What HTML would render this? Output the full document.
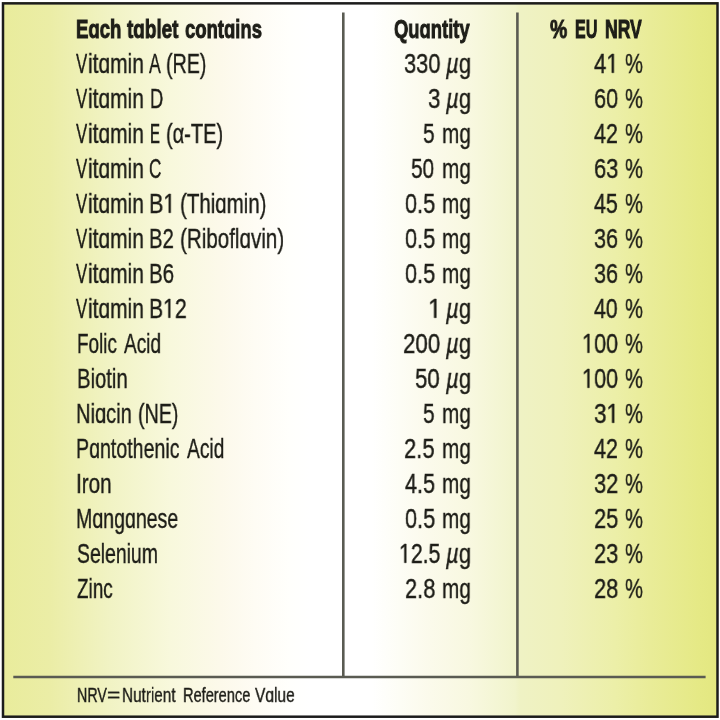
<!DOCTYPE html>
<html><head><meta charset="utf-8"><style>
html,body{margin:0;padding:0;width:720px;height:720px;overflow:hidden;background:#fff}
#bg{position:absolute;left:0;top:0;width:720px;height:720px;background:linear-gradient(to right,#e9ec9b 0px,#ebeda6 50px,#f1f3c4 110px,#f8f8dc 170px,#fcf9ea 220px,#fefcf4 255px,#fffffc 290px,#ffffff 310px,#ffffff 372px,#fdfdf5 400px,#fbfaeb 430px,#f8f8e0 470px,#f1f4cc 515px,#eff2c4 520px,#eff1bc 560px,#ecefa8 615px,#e9ec98 650px,#e5e985 700px,#e3e780 720px)}
span{position:absolute;white-space:pre;will-change:transform;-webkit-text-stroke:0.4px #1e1e18;font-family:"Liberation Sans",sans-serif;line-height:normal;color:#1e1e18;transform-origin:0 0}
span.b{font-weight:700;-webkit-text-stroke-width:1.0px}
.one{display:inline-block;width:0.5562em;height:0.688em;vertical-align:baseline;overflow:visible}
.one path{fill:#1e1e18;stroke:#1e1e18;stroke-width:0.5px;vector-effect:non-scaling-stroke}
svg.lines{position:absolute;left:0;top:0}
</style></head><body>
<div id="bg"></div>
<svg class="lines" width="720" height="720" viewBox="0 0 720 720">
<path d="M0 0H720V720H0Z M2 2V718H718V2Z" fill="#fff" fill-rule="evenodd"/>
<rect x="3.0" y="3.35" width="714.5" height="713.35" fill="none" stroke="#1c1c1c" stroke-width="2.5"/>
<line x1="343.3" y1="12.5" x2="343.3" y2="677" stroke="#5a5b52" stroke-width="2.6"/>
<line x1="517.4" y1="12.5" x2="517.4" y2="677" stroke="#5a5b52" stroke-width="2.6"/>
<line x1="13.3" y1="677" x2="705.6" y2="677" stroke="#5a5b52" stroke-width="2.6"/>
</svg>
<span class="b" style="left:76.39px;top:14.017px;font-size:26.5px;transform:scaleX(0.7010)">Eɑch</span>
<span class="b" style="left:126.91px;top:14.017px;font-size:26.5px;transform:scaleX(0.7142)">tɑblet</span>
<span class="b" style="left:185.46px;top:14.017px;font-size:26.5px;transform:scaleX(0.6965)">contɑins</span>
<span class="r" style="left:76.42px;top:48.384px;font-size:27.2px;transform:scaleX(0.6202)">V</span>
<span class="r" style="left:88.04px;top:48.384px;font-size:27.2px;transform:scaleX(0.7701)">itɑmin</span>
<span class="r" style="left:148.86px;top:48.384px;font-size:27.2px;transform:scaleX(0.6490)">A</span>
<span class="r" style="left:166.22px;top:48.384px;font-size:27.2px;transform:scaleX(0.7239)">(RE)</span>
<span class="r" style="left:76.42px;top:83.384px;font-size:27.2px;transform:scaleX(0.6202)">V</span>
<span class="r" style="left:88.04px;top:83.384px;font-size:27.2px;transform:scaleX(0.7701)">itɑmin</span>
<span class="r" style="left:149.52px;top:83.384px;font-size:27.2px;transform:scaleX(0.6797)">D</span>
<span class="r" style="left:76.42px;top:118.384px;font-size:27.2px;transform:scaleX(0.6202)">V</span>
<span class="r" style="left:88.04px;top:118.384px;font-size:27.2px;transform:scaleX(0.7701)">itɑmin</span>
<span class="r" style="left:149.90px;top:118.384px;font-size:27.2px;transform:scaleX(0.5532)">E</span>
<span class="r" style="left:166.20px;top:118.384px;font-size:27.2px;transform:scaleX(0.7366)">(α-TE)</span>
<span class="r" style="left:76.42px;top:153.384px;font-size:27.2px;transform:scaleX(0.6202)">V</span>
<span class="r" style="left:88.04px;top:153.384px;font-size:27.2px;transform:scaleX(0.7701)">itɑmin</span>
<span class="r" style="left:149.44px;top:153.384px;font-size:27.2px;transform:scaleX(0.6303)">C</span>
<span class="r" style="left:76.42px;top:188.384px;font-size:27.2px;transform:scaleX(0.6202)">V</span>
<span class="r" style="left:88.04px;top:188.384px;font-size:27.2px;transform:scaleX(0.7701)">itɑmin</span>
<span class="r" style="left:149.37px;top:188.384px;font-size:27.2px;transform:scaleX(0.7949)">B<svg class="one" viewBox="0 -1409 1139 1409"><path d="M515 0V-1237L197 -1010V-1180L530 -1409H696V0Z"/></svg></span>
<span class="r" style="left:179.67px;top:188.384px;font-size:27.2px;transform:scaleX(0.7532)">(Thiɑmin)</span>
<span class="r" style="left:76.42px;top:223.384px;font-size:27.2px;transform:scaleX(0.6202)">V</span>
<span class="r" style="left:88.04px;top:223.384px;font-size:27.2px;transform:scaleX(0.7701)">itɑmin</span>
<span class="r" style="left:149.49px;top:223.384px;font-size:27.2px;transform:scaleX(0.7420)">B2</span>
<span class="r" style="left:179.66px;top:223.384px;font-size:27.2px;transform:scaleX(0.7576)">(Riboflɑvin)</span>
<span class="r" style="left:76.42px;top:258.384px;font-size:27.2px;transform:scaleX(0.6202)">V</span>
<span class="r" style="left:88.04px;top:258.384px;font-size:27.2px;transform:scaleX(0.7701)">itɑmin</span>
<span class="r" style="left:149.46px;top:258.384px;font-size:27.2px;transform:scaleX(0.7520)">B6</span>
<span class="r" style="left:76.42px;top:293.384px;font-size:27.2px;transform:scaleX(0.6202)">V</span>
<span class="r" style="left:88.04px;top:293.384px;font-size:27.2px;transform:scaleX(0.7701)">itɑmin</span>
<span class="r" style="left:149.40px;top:293.384px;font-size:27.2px;transform:scaleX(0.7799)">B<svg class="one" viewBox="0 -1409 1139 1409"><path d="M515 0V-1237L197 -1010V-1180L530 -1409H696V0Z"/></svg>2</span>
<span class="r" style="left:76.59px;top:328.384px;font-size:27.2px;transform:scaleX(0.6959)">Folic</span>
<span class="r" style="left:124.00px;top:328.384px;font-size:27.2px;transform:scaleX(0.7000)">Acid</span>
<span class="r" style="left:76.68px;top:363.384px;font-size:27.2px;transform:scaleX(0.7447)">Biotin</span>
<span class="r" style="left:76.39px;top:398.384px;font-size:27.2px;transform:scaleX(0.7381)">Niɑcin</span>
<span class="r" style="left:138.32px;top:398.384px;font-size:27.2px;transform:scaleX(0.7239)">(NE)</span>
<span class="r" style="left:76.43px;top:433.384px;font-size:27.2px;transform:scaleX(0.7211)">Pɑntothenic</span>
<span class="r" style="left:187.00px;top:433.384px;font-size:27.2px;transform:scaleX(0.7059)">Acid</span>
<span class="r" style="left:76.14px;top:468.384px;font-size:27.2px;transform:scaleX(0.7611)">Iron</span>
<span class="r" style="left:76.43px;top:503.384px;font-size:27.2px;transform:scaleX(0.7194)">Mɑngɑnese</span>
<span class="r" style="left:76.63px;top:538.384px;font-size:27.2px;transform:scaleX(0.7136)">Selenium</span>
<span class="r" style="left:76.83px;top:573.384px;font-size:27.2px;transform:scaleX(0.6951)">Zinc</span>
<span class="b" style="left:393.96px;top:14.017px;font-size:26.5px;transform:scaleX(0.6944)">Quɑntity</span>
<span class="r" style="left:403.62px;top:48.384px;font-size:27.2px;transform:scaleX(0.8047)">330</span>
<span class="r" style="left:445.50px;top:48.384px;font-size:27.2px;transform:scaleX(0.8143)"><i>µ</i>g</span>
<span class="r" style="left:427.91px;top:83.384px;font-size:27.2px;transform:scaleX(0.8213)">3</span>
<span class="r" style="left:445.50px;top:83.384px;font-size:27.2px;transform:scaleX(0.8143)"><i>µ</i>g</span>
<span class="r" style="left:423.17px;top:118.384px;font-size:27.2px;transform:scaleX(0.7663)">5</span>
<span class="r" style="left:441.50px;top:118.384px;font-size:27.2px;transform:scaleX(0.7630)">mg</span>
<span class="r" style="left:411.47px;top:153.384px;font-size:27.2px;transform:scaleX(0.7673)">50</span>
<span class="r" style="left:441.50px;top:153.384px;font-size:27.2px;transform:scaleX(0.7630)">mg</span>
<span class="r" style="left:404.53px;top:188.384px;font-size:27.2px;transform:scaleX(0.7998)">0.5</span>
<span class="r" style="left:441.50px;top:188.384px;font-size:27.2px;transform:scaleX(0.7630)">mg</span>
<span class="r" style="left:404.53px;top:223.384px;font-size:27.2px;transform:scaleX(0.7998)">0.5</span>
<span class="r" style="left:441.50px;top:223.384px;font-size:27.2px;transform:scaleX(0.7630)">mg</span>
<span class="r" style="left:404.53px;top:258.384px;font-size:27.2px;transform:scaleX(0.7998)">0.5</span>
<span class="r" style="left:441.50px;top:258.384px;font-size:27.2px;transform:scaleX(0.7630)">mg</span>
<span class="r" style="left:427.87px;top:293.384px;font-size:27.2px;transform:scaleX(0.9004)"><svg class="one" viewBox="0 -1409 1139 1409"><path d="M515 0V-1237L197 -1010V-1180L530 -1409H696V0Z"/></svg></span>
<span class="r" style="left:445.50px;top:293.384px;font-size:27.2px;transform:scaleX(0.8143)"><i>µ</i>g</span>
<span class="r" style="left:402.88px;top:328.384px;font-size:27.2px;transform:scaleX(0.8214)">200</span>
<span class="r" style="left:445.50px;top:328.384px;font-size:27.2px;transform:scaleX(0.8143)"><i>µ</i>g</span>
<span class="r" style="left:415.31px;top:363.384px;font-size:27.2px;transform:scaleX(0.8205)">50</span>
<span class="r" style="left:445.50px;top:363.384px;font-size:27.2px;transform:scaleX(0.8143)"><i>µ</i>g</span>
<span class="r" style="left:423.17px;top:398.384px;font-size:27.2px;transform:scaleX(0.7663)">5</span>
<span class="r" style="left:441.50px;top:398.384px;font-size:27.2px;transform:scaleX(0.7630)">mg</span>
<span class="r" style="left:404.20px;top:433.384px;font-size:27.2px;transform:scaleX(0.8088)">2.5</span>
<span class="r" style="left:441.50px;top:433.384px;font-size:27.2px;transform:scaleX(0.7630)">mg</span>
<span class="r" style="left:404.76px;top:468.384px;font-size:27.2px;transform:scaleX(0.7936)">4.5</span>
<span class="r" style="left:441.50px;top:468.384px;font-size:27.2px;transform:scaleX(0.7630)">mg</span>
<span class="r" style="left:404.53px;top:503.384px;font-size:27.2px;transform:scaleX(0.7998)">0.5</span>
<span class="r" style="left:441.50px;top:503.384px;font-size:27.2px;transform:scaleX(0.7630)">mg</span>
<span class="r" style="left:398.78px;top:538.384px;font-size:27.2px;transform:scaleX(0.7820)"><svg class="one" viewBox="0 -1409 1139 1409"><path d="M515 0V-1237L197 -1010V-1180L530 -1409H696V0Z"/></svg>2.5</span>
<span class="r" style="left:445.50px;top:538.384px;font-size:27.2px;transform:scaleX(0.8143)"><i>µ</i>g</span>
<span class="r" style="left:404.51px;top:573.384px;font-size:27.2px;transform:scaleX(0.8034)">2.8</span>
<span class="r" style="left:441.50px;top:573.384px;font-size:27.2px;transform:scaleX(0.7630)">mg</span>
<span class="b" style="left:549.92px;top:14.017px;font-size:26.5px;transform:scaleX(0.7278)">%</span>
<span class="b" style="left:574.86px;top:14.017px;font-size:26.5px;transform:scaleX(0.6056)">EU</span>
<span class="b" style="left:605.26px;top:14.017px;font-size:26.5px;transform:scaleX(0.6632)">NRV</span>
<span class="r" style="left:594.45px;top:48.384px;font-size:27.2px;transform:scaleX(0.8156)">4<svg class="one" viewBox="0 -1409 1139 1409"><path d="M515 0V-1237L197 -1010V-1180L530 -1409H696V0Z"/></svg></span>
<span class="r" style="left:625.39px;top:48.384px;font-size:27.2px;transform:scaleX(0.7443)">%</span>
<span class="r" style="left:593.91px;top:83.384px;font-size:27.2px;transform:scaleX(0.8034)">60</span>
<span class="r" style="left:625.39px;top:83.384px;font-size:27.2px;transform:scaleX(0.7443)">%</span>
<span class="r" style="left:594.46px;top:118.384px;font-size:27.2px;transform:scaleX(0.7957)">42</span>
<span class="r" style="left:625.39px;top:118.384px;font-size:27.2px;transform:scaleX(0.7443)">%</span>
<span class="r" style="left:593.90px;top:153.384px;font-size:27.2px;transform:scaleX(0.8074)">63</span>
<span class="r" style="left:625.39px;top:153.384px;font-size:27.2px;transform:scaleX(0.7443)">%</span>
<span class="r" style="left:594.46px;top:188.384px;font-size:27.2px;transform:scaleX(0.7881)">45</span>
<span class="r" style="left:625.39px;top:188.384px;font-size:27.2px;transform:scaleX(0.7443)">%</span>
<span class="r" style="left:594.13px;top:223.384px;font-size:27.2px;transform:scaleX(0.7995)">36</span>
<span class="r" style="left:625.39px;top:223.384px;font-size:27.2px;transform:scaleX(0.7443)">%</span>
<span class="r" style="left:594.13px;top:258.384px;font-size:27.2px;transform:scaleX(0.7995)">36</span>
<span class="r" style="left:625.39px;top:258.384px;font-size:27.2px;transform:scaleX(0.7443)">%</span>
<span class="r" style="left:594.47px;top:293.384px;font-size:27.2px;transform:scaleX(0.7843)">40</span>
<span class="r" style="left:625.39px;top:293.384px;font-size:27.2px;transform:scaleX(0.7443)">%</span>
<span class="r" style="left:582.15px;top:328.384px;font-size:27.2px;transform:scaleX(0.7952)"><svg class="one" viewBox="0 -1409 1139 1409"><path d="M515 0V-1237L197 -1010V-1180L530 -1409H696V0Z"/></svg>00</span>
<span class="r" style="left:625.39px;top:328.384px;font-size:27.2px;transform:scaleX(0.7443)">%</span>
<span class="r" style="left:582.15px;top:363.384px;font-size:27.2px;transform:scaleX(0.7952)"><svg class="one" viewBox="0 -1409 1139 1409"><path d="M515 0V-1237L197 -1010V-1180L530 -1409H696V0Z"/></svg>00</span>
<span class="r" style="left:625.39px;top:363.384px;font-size:27.2px;transform:scaleX(0.7443)">%</span>
<span class="r" style="left:594.10px;top:398.384px;font-size:27.2px;transform:scaleX(0.8299)">3<svg class="one" viewBox="0 -1409 1139 1409"><path d="M515 0V-1237L197 -1010V-1180L530 -1409H696V0Z"/></svg></span>
<span class="r" style="left:625.39px;top:398.384px;font-size:27.2px;transform:scaleX(0.7443)">%</span>
<span class="r" style="left:594.46px;top:433.384px;font-size:27.2px;transform:scaleX(0.7957)">42</span>
<span class="r" style="left:625.39px;top:433.384px;font-size:27.2px;transform:scaleX(0.7443)">%</span>
<span class="r" style="left:594.12px;top:468.384px;font-size:27.2px;transform:scaleX(0.8074)">32</span>
<span class="r" style="left:625.39px;top:468.384px;font-size:27.2px;transform:scaleX(0.7443)">%</span>
<span class="r" style="left:593.90px;top:503.384px;font-size:27.2px;transform:scaleX(0.8074)">25</span>
<span class="r" style="left:625.39px;top:503.384px;font-size:27.2px;transform:scaleX(0.7443)">%</span>
<span class="r" style="left:593.90px;top:538.384px;font-size:27.2px;transform:scaleX(0.8074)">23</span>
<span class="r" style="left:625.39px;top:538.384px;font-size:27.2px;transform:scaleX(0.7443)">%</span>
<span class="r" style="left:593.90px;top:573.384px;font-size:27.2px;transform:scaleX(0.8074)">28</span>
<span class="r" style="left:625.39px;top:573.384px;font-size:27.2px;transform:scaleX(0.7443)">%</span>
<span class="r" style="left:76.86px;top:682.995px;font-size:21.0px;transform:scaleX(0.6776)">NRV</span>
<span class="r" style="left:107.47px;top:682.995px;font-size:21.0px;transform:scaleX(1.0800)">=</span>
<span class="r" style="left:121.58px;top:682.995px;font-size:21.0px;transform:scaleX(0.7279)">Nutrient</span>
<span class="r" style="left:182.53px;top:682.995px;font-size:21.0px;transform:scaleX(0.6947)">Reference</span>
<span class="r" style="left:254.92px;top:682.995px;font-size:21.0px;transform:scaleX(0.7399)">Vɑlue</span>
</body></html>
